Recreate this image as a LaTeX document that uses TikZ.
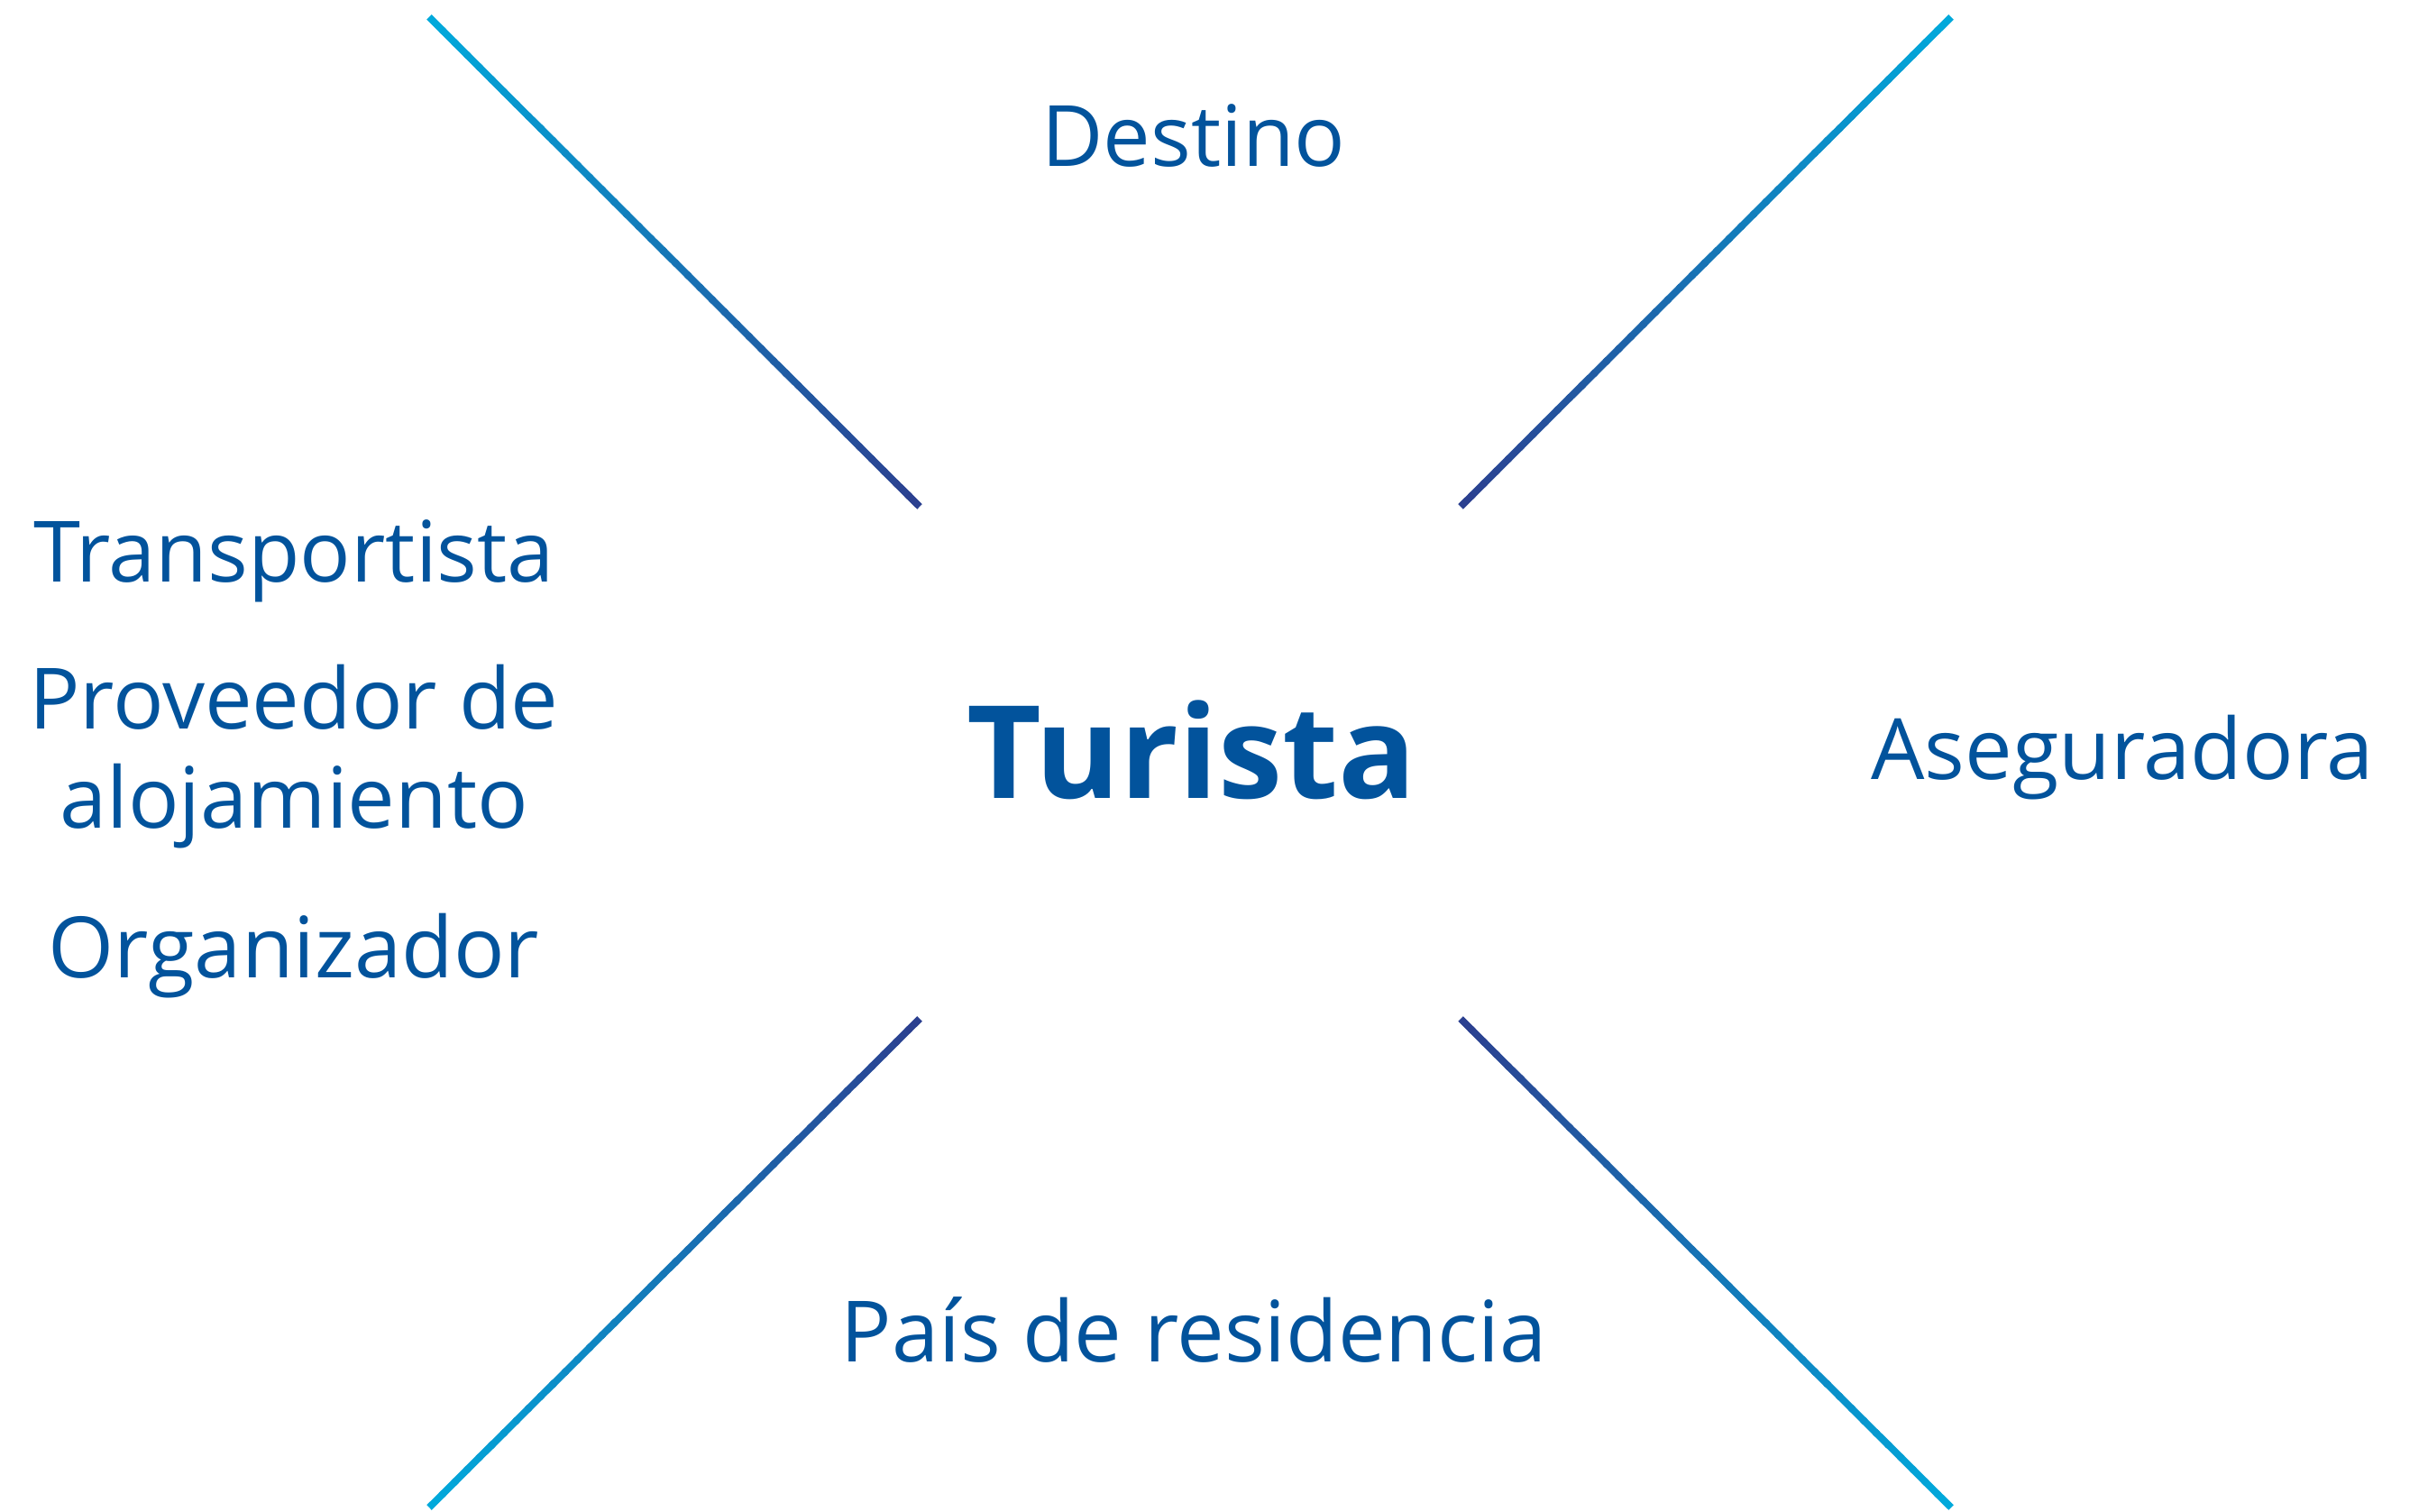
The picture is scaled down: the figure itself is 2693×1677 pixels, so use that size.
\documentclass[tikz,border=0pt]{standalone}
\usepackage{fontspec}
\setmainfont{Open Sans}
\usetikzlibrary{calc}
\definecolor{txtblue}{HTML}{02539C}
\definecolor{lineout}{HTML}{00AADC}
\definecolor{linein}{HTML}{2C3F8F}
\tikzset{
  lbl/.style={anchor=base, inner sep=0pt, text=txtblue, font=\fontsize{26.7}{32}\selectfont},
  central/.style={anchor=base, inner sep=0pt, text=txtblue, font=\fontsize{40.7}{48}\selectfont\bfseries},
  gradline/.style={line width=0.078cm, line cap=butt}
}
\newcommand{\gradientline}[2]{%
  \foreach \i in {0,...,39}{%
    \pgfmathsetmacro{\ta}{\i/40}%
    \pgfmathsetmacro{\tb}{min(1,(\i+1.2)/40)}%
    \pgfmathsetmacro{\pc}{100-(\i+0.5)*2.5}%
    \draw[gradline, color=lineout!\pc!linein] ($(#1)!\ta!(#2)$) -- ($(#1)!\tb!(#2)$);
  }%
}
\begin{document}
\begin{tikzpicture}[x=0.01cm, y=-0.01cm]
\useasboundingbox (0,0) rectangle (2693,1677);
% line end points
\coordinate (tlo) at (476,19);
\coordinate (tli) at (1020,562);
\coordinate (tro) at (2164,19);
\coordinate (tri) at (1620,562);
\coordinate (blo) at (476,1672);
\coordinate (bli) at (1020,1130);
\coordinate (bro) at (2164,1672);
\coordinate (bri) at (1620,1130);
\gradientline{tlo}{tli}
\gradientline{tro}{tri}
\gradientline{blo}{bli}
\gradientline{bro}{bri}
% texts
\node[central] (turista) at (1322,886) {Turista};
\node[lbl] (destino) at (1324,185) {Destino};
\node[lbl] (pais) at (1324,1511) {País de residencia};
\node[lbl] (aseg) at (2354,865) {Aseguradora};
\node[lbl] (transp) at (326,646) {Transportista};
\node[lbl] (prov1) at (326,809) {Proveedor de};
\node[lbl] (prov2) at (326,919) {alojamiento};
\node[lbl] (organ) at (326,1085) {Organizador};
\end{tikzpicture}
\end{document}
